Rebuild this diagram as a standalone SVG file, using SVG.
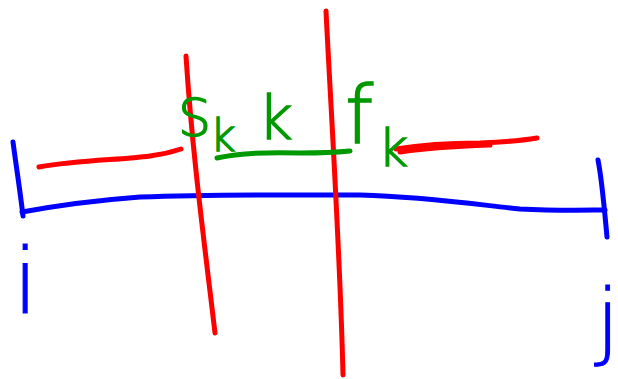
<svg xmlns="http://www.w3.org/2000/svg" width="618" height="379" viewBox="0 0 618 379">
<style>
.b{fill:none;stroke:#0000ff;stroke-width:5;stroke-linecap:round;stroke-linejoin:round}
.r{fill:none;stroke:#ff0000;stroke-width:5;stroke-linecap:round;stroke-linejoin:round}
.g{fill:none;stroke:#009900;stroke-width:5;stroke-linecap:round;stroke-linejoin:round}
.gt{fill:#009900;stroke:#009900;stroke-width:1.5;font-family:"DejaVu Sans","Liberation Sans",sans-serif;font-weight:300}
.bt{fill:#0000ff;stroke:#0000ff;stroke-width:1;font-family:"DejaVu Sans","Liberation Sans",sans-serif;font-weight:300}
</style>
<rect width="618" height="379" fill="#fff"/>
<g id="interval">
<path class="b" d="M13,142 C16,165 20,190 23,216"/>
<path class="b" d="M22,212 C60,205 100,200 140,197 C220,194 300,195 360,195 C430,197 480,205 520,209 C560,211 590,210 605,210"/>
<path class="b" d="M598,160 C602,180 604,205 607,237"/>
</g>
<g id="labels-ij">
<text class="bt" x="13" y="313" font-size="90">i</text>
<text class="bt" x="596" y="349" font-size="84">j</text>
</g>
<g id="cuts">
<path class="r" d="M186,56 C192,150 204,240 215,333"/>
<path class="r" d="M326,11 C332,130 340,250 343,375"/>
</g>
<g id="connectors">
<path class="r" d="M39,167 C80,160 120,160 150,156 C165,154 175,151 181,149"/>
<path class="r" d="M396,149 C420,145 450,143 480,143 C505,142 525,140 537,138"/>
<path class="r" d="M400,152 C425,148 460,146 490,145"/>
<path class="g" d="M217,158 C240,153 270,152 300,153 C320,153 340,152 350,151"/>
</g>
<g id="labels">
<text class="gt" x="178" y="136" font-size="52">S</text>
<text class="gt" x="210" y="151" font-size="44">k</text>
<text class="gt" x="258" y="139" font-size="60">k</text>
<text class="gt" x="345" y="143" font-size="80">f</text>
<text class="gt" x="378" y="166" font-size="52">k</text>
</g>
</svg>
